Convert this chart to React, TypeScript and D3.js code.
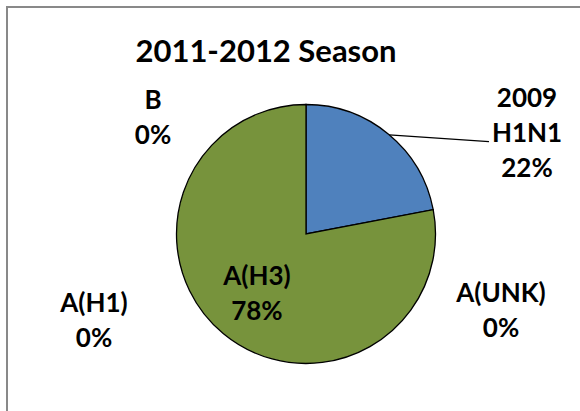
import React from "react";
import * as d3 from "d3";

const categories = ["2009 H1N1", "A(H3)", "A(UNK)", "A(H1)", "B"];
const values = [22, 78, 0, 0, 0];
const labelLines = [["2009", "H1N1"], ["A(H3)"], ["A(UNK)"], ["A(H1)"], ["B"]];
const colors = ["#4F81BD", "#77933C", "#C0504D", "#8064A2", "#4BACC6"];
const title = "2011-2012 Season";

// layout (not data)
const W = 580, H = 411;
const cx = 306, cy = 234, R = 129.5;
const fixedLabelPos: Record<string, [number, number]> = {
  "2009 H1N1": [527, 107],
  "A(UNK)": [501, 302],
  "A(H1)": [94, 312],
  "B": [153, 108.5],
};
const lineH = 35;

export default function App() {
  const total = d3.sum(values);
  const pie = d3.pie<number>().sort(null).value((d) => d);
  const arcs = pie(values);
  const arc = d3.arc<d3.PieArcDatum<number>>().innerRadius(0).outerRadius(R);
  const labelArc = d3.arc<d3.PieArcDatum<number>>().innerRadius(77).outerRadius(77);

  const font = "Lato, 'Open Sans', sans-serif";

  const a0 = arcs[0];
  const leadAng = a0.startAngle + (a0.endAngle - a0.startAngle) * 0.505;
  const lx1 = cx + R * Math.sin(leadAng);
  const ly1 = cy - R * Math.cos(leadAng);

  return (
    <svg width={W} height={H} style={{ position: "absolute", left: 0, top: 0, background: "#fff" }}>
      <rect x={0} y={0} width={W} height={H} fill="#fff" />
      <rect x={7} y={7} width={W + 20} height={H + 20} fill="none" stroke="#898989" strokeWidth={2} />
      <text x={266} y={62} textAnchor="middle" fontFamily={font} fontWeight={700} fontSize={31} fill="#000">
        {title}
      </text>
      <g transform={`translate(${cx},${cy})`}>
        {arcs.map((a, i) =>
          a.value > 0 ? (
            <path key={i} d={arc(a) || ""} fill={colors[i]} stroke="#000" strokeWidth={1.3} />
          ) : null
        )}
      </g>
      <line x1={lx1} y1={ly1} x2={489} y2={141.7} stroke="#000" strokeWidth={1.2} />
      {arcs.map((a, i) => {
        const name = categories[i];
        const pct = Math.round((values[i] / total) * 100) + "%";
        let x: number, y: number;
        const lines = [...labelLines[i], pct];
        if (fixedLabelPos[name]) {
          [x, y] = fixedLabelPos[name];
        } else {
          const c = labelArc.centroid(a);
          x = cx + c[0];
          y = cy + c[1] - ((lines.length - 1) * lineH) / 2 + 9;
        }
        return (
          <text key={i} textAnchor="middle" fontFamily={font} fontWeight={700} fontSize={26} fill="#000">
            {lines.map((t, j) => (
              <tspan key={j} x={x} y={y + j * lineH}>
                {t}
              </tspan>
            ))}
          </text>
        );
      })}
    </svg>
  );
}
